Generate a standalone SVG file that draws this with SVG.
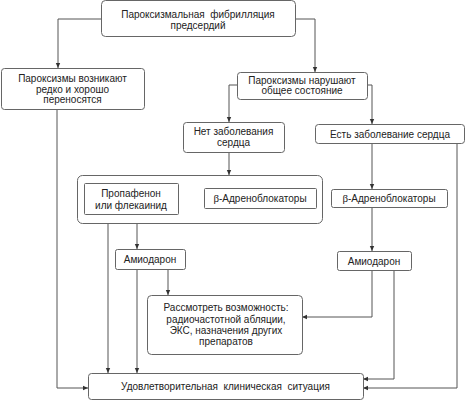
<svg xmlns="http://www.w3.org/2000/svg" width="466" height="400" viewBox="0 0 466 400">
<defs>
<marker id="ah" markerUnits="userSpaceOnUse" markerWidth="6" markerHeight="6" refX="5" refY="3" orient="auto">
<path d="M0,0.8 L5,3 L0,5.2 Z" fill="#333"/>
</marker>
</defs>
<style>
.box{fill:#fff;stroke:#666;stroke-width:1}
.t{font-family:"Liberation Sans",Arial,sans-serif;font-size:10px;fill:#222;text-anchor:middle;white-space:pre}
.g{font-family:"Liberation Serif","Times New Roman",serif;font-size:11px}
.c{fill:none;stroke:#555;stroke-width:1;marker-end:url(#ah)}
</style>
<rect width="466" height="400" fill="#fff"/>
<g id="connectors">
<path class="c" d="M101,19 H58 V68"/>
<path class="c" d="M295,19 H315 V72"/>
<path class="c" d="M237,85 H229 V122"/>
<path class="c" d="M367,85 H372 V124"/>
<path class="c" d="M229,152 V175"/>
<path class="c" d="M178,198 H204"/>
<path class="c" d="M372,143 V189"/>
<path class="c" d="M372,207 V251"/>
<path class="c" d="M137,223 V249"/>
<path class="c" d="M108,223 V373"/>
<path class="c" d="M137,269 V373"/>
<path class="c" d="M168,269 V295"/>
<path class="c" d="M372,270 V317 H302"/>
<path class="c" d="M394,270 V379 H363"/>
<path class="c" d="M457,143 V388 H363"/>
<path class="c" d="M57,109 V388 H88"/>
</g>
<g id="n_top"><rect class="box" x="101.5" y="0.5" width="194" height="36" rx="4"/>
<text class="t" x="198" y="17.5" xml:space="preserve">Пароксизмальная  фибрилляция</text>
<text class="t" x="198" y="28.5">предсердий</text></g>
<g id="n_rare"><rect class="box" x="1.5" y="68.5" width="143" height="41" rx="3"/>
<text class="t" x="72.5" y="81.5">Пароксизмы возникают</text>
<text class="t" x="72.5" y="92.5">редко и хорошо</text>
<text class="t" x="72.5" y="103">переносятся</text></g>
<g id="n_impair"><rect class="box" x="237.5" y="72.5" width="130" height="27" rx="3"/>
<text class="t" x="302" y="83.5">Пароксизмы нарушают</text>
<text class="t" x="302" y="94">общее состояние</text></g>
<g id="n_nodis"><rect class="box" x="183.5" y="122.5" width="101" height="30" rx="3"/>
<text class="t" x="233.5" y="134.5">Нет заболевания</text>
<text class="t" x="233.5" y="146">сердца</text></g>
<g id="n_dis"><rect class="box" x="315.5" y="124.5" width="149" height="19" rx="3"/>
<text class="t" x="390" y="137.5">Есть заболевание сердца</text></g>
<g id="n_group"><rect class="box" x="77.5" y="175.5" width="245" height="48" rx="5"/></g>
<g id="n_propaf"><rect class="box" x="84.5" y="183.5" width="94" height="31" rx="1"/>
<text class="t" x="131" y="196.5">Пропафенон</text>
<text class="t" x="131" y="208.5">или флекаинид</text></g>
<g id="n_beta1"><rect class="box" x="204.5" y="188.5" width="112" height="20" rx="1"/>
<text class="t" x="260" y="201.5"><tspan class="g">β</tspan>-Адреноблокаторы</text></g>
<g id="n_beta2"><rect class="box" x="331.5" y="189.5" width="116" height="18" rx="2"/>
<text class="t" x="389" y="201.5"><tspan class="g">β</tspan>-Адреноблокаторы</text></g>
<g id="n_amio1"><rect class="box" x="115.5" y="249.5" width="70" height="20" rx="2"/>
<text class="t" x="150" y="262.5">Амиодарон</text></g>
<g id="n_amio2"><rect class="box" x="337.5" y="251.5" width="74" height="19" rx="2"/>
<text class="t" x="374" y="264.5">Амиодарон</text></g>
<g id="n_consider"><rect class="box" x="147.5" y="295.5" width="155" height="59" rx="4"/>
<text class="t" x="226" y="311">Рассмотреть возможность:</text>
<text class="t" x="226" y="322.5">радиочастотной абляции,</text>
<text class="t" x="226" y="334">ЭКС, назначения других</text>
<text class="t" x="226" y="344.5">препаратов</text></g>
<g id="n_ok"><rect class="box" x="88.5" y="373.5" width="275" height="26" rx="3"/>
<text class="t" x="225.5" y="390" xml:space="preserve">Удовлетворительная  клиническая  ситуация</text></g>
</svg>
